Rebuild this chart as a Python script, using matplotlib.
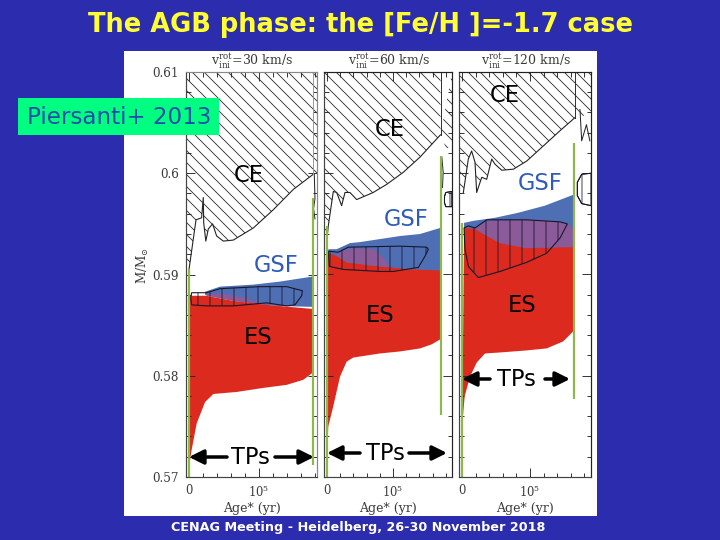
import numpy as np
import matplotlib
matplotlib.use('Agg')
import matplotlib.pyplot as plt
from matplotlib.patches import Rectangle, FancyArrowPatch
from matplotlib.ticker import MultipleLocator

# Data, age in units of 1e5 yr, mass in Msun
velocities = [30, 60, 120]

# panel 1
ce_age_1 = [0, 0.10, 0.18, 0.204, 0.21, 0.24, 0.276, 0.337, 0.395, 0.49, 0.633, 0.92, 1.205, 1.49, 1.776]
ce_mass_1 = [0.5905, 0.5954, 0.5956, 0.5976, 0.5951, 0.5933, 0.5945, 0.5950, 0.5938, 0.5933, 0.5934, 0.5946, 0.5964, 0.5984, 0.5999]
red_low_age_1 = [0, 0.038, 0.11, 0.229, 0.348, 0.681, 1.062, 1.395, 1.633, 1.767]
red_low_mass_1 = [0.5710, 0.5727, 0.5753, 0.5774, 0.5782, 0.5784, 0.5788, 0.5791, 0.5796, 0.5803]
red_top_age_1 = [0, 0.02, 0.25, 0.63, 1.11, 1.767]
red_top_mass_1 = [0.5877, 0.5879, 0.5879, 0.5874, 0.5870, 0.5866]
blue_top_age_1 = [0.229, 0.443, 0.92, 1.30, 1.767]
blue_top_mass_1 = [0.5883, 0.5888, 0.5890, 0.5893, 0.5898]
blue_bot_age_1 = [0.229, 0.63, 1.06, 1.25, 1.767]
blue_bot_mass_1 = [0.5880, 0.5874, 0.5870, 0.5869, 0.5868]
purple_age_1 = [0.25, 0.5, 0.8, 1.06]
purple_mass_1 = [0.5881, 0.5881, 0.5877, 0.5871]
pocket_age_1 = [0.038, 0.024, 0.038, 0.252, 0.633, 1.11, 1.395, 1.514, 1.61, 1.62, 1.395, 1.014, 0.443, 0.252, 0.11, 0.038]
pocket_mass_1 = [0.5882, 0.5877, 0.5870, 0.5869, 0.5869, 0.5872, 0.5869, 0.5870, 0.5879, 0.5884, 0.5888, 0.5888, 0.5886, 0.5882, 0.5882, 0.5882]
green_1 = [(0, 0.5700, 0.5905), (1.767, 0.5712, 0.5976)]
sliver_age_1 = [1.776, 1.776, 1.83, 1.83]
sliver_mass_1 = [0.6100, 0.5999, 0.5995, 0.6100]
zig_age_1 = [1.79, 1.80, 1.78, 1.80]
zig_mass_1 = [0.5999, 0.5975, 0.5965, 0.5955]

# panel 2
ce_age_2 = [0, 0.02, 0.096, 0.147, 0.222, 0.273, 0.348, 0.45, 0.70, 0.904, 1.157, 1.41, 1.72]
ce_mass_2 = [0.5935, 0.5948, 0.5982, 0.5981, 0.5968, 0.5981, 0.5981, 0.5974, 0.5981, 0.5989, 0.6001, 0.6016, 0.6038]
red_low_age_2 = [0, 0.02, 0.096, 0.197, 0.298, 0.399, 0.5, 0.8, 1.106, 1.41, 1.586, 1.717]
red_low_mass_2 = [0.5720, 0.5750, 0.5770, 0.5799, 0.5814, 0.5818, 0.5819, 0.5822, 0.5824, 0.5827, 0.5831, 0.5836]
red_top_age_2 = [0, 0.15, 0.3, 0.65, 0.955, 1.258, 1.717]
red_top_mass_2 = [0.5922, 0.5918, 0.5912, 0.5909, 0.5907, 0.5905, 0.5904]
blue_top_age_2 = [0.02, 0.147, 0.348, 0.5, 0.803, 1.106, 1.41, 1.717]
blue_top_mass_2 = [0.5925, 0.5925, 0.5931, 0.5932, 0.5935, 0.5938, 0.5940, 0.5946]
blue_bot_age_2 = [0.02, 1.717]
blue_bot_mass_2 = [0.5900, 0.5900]
purple_age_2 = [0.15, 0.4, 0.7, 0.85, 0.955]
purple_mass_2 = [0.5922, 0.5926, 0.5925, 0.5917, 0.5907]
pocket_age_2 = [0.02, 0.035, 0.248, 0.803, 1.005, 1.384, 1.485, 1.535, 1.51, 1.106, 0.323, 0.172, 0.02]
pocket_mass_2 = [0.5923, 0.5908, 0.5905, 0.5903, 0.5903, 0.5907, 0.5918, 0.5925, 0.5927, 0.5928, 0.5927, 0.5922, 0.5923]
green_2 = [(0, 0.5700, 0.5948), (1.72, 0.5761, 0.6017)]
sliver_age_2 = [1.72, 1.80, 1.894, 1.894]
sliver_mass_2 = [0.6038, 0.6025, 0.6025, 0.6100]
zig_age_2 = [1.74, 1.76, 1.75]
zig_mass_2 = [0.6016, 0.6001, 0.5986]
box_age_2 = [1.89, 1.80, 1.78, 1.78, 1.80, 1.89]
box_mass_2 = [0.5982, 0.5981, 0.5977, 0.5971, 0.5967, 0.5967]

# panel 3
ce_age_3 = [0.02, 0.093, 0.142, 0.191, 0.216, 0.29, 0.363, 0.437, 0.485, 0.584, 0.755, 0.951, 1.196, 1.441, 1.662]
ce_mass_3 = [0.5981, 0.6014, 0.6022, 0.6011, 0.5981, 0.5996, 0.5994, 0.6014, 0.6009, 0.6003, 0.6004, 0.6012, 0.6027, 0.6042, 0.6055]
red_low_age_3 = [0.005, 0.04, 0.118, 0.216, 0.338, 0.559, 0.95, 1.245, 1.49, 1.637]
red_low_mass_3 = [0.5753, 0.5780, 0.5799, 0.5813, 0.5822, 0.5823, 0.5825, 0.5827, 0.5834, 0.5844]
red_top_age_3 = [0.03, 0.191, 0.314, 0.559, 0.951, 1.441, 1.647]
red_top_mass_3 = [0.5946, 0.5945, 0.5940, 0.5931, 0.5926, 0.5927, 0.5927]
blue_top_age_3 = [0.03, 0.167, 0.485, 0.828, 1.22, 1.647]
blue_top_mass_3 = [0.5951, 0.5953, 0.5956, 0.5961, 0.5968, 0.5979]
blue_bot_age_3 = [0.03, 1.647]
blue_bot_mass_3 = [0.5920, 0.5920]
purple_age_3 = [0.191, 0.363, 0.8, 1.2, 1.55, 1.647]
purple_mass_3 = [0.5945, 0.5953, 0.5954, 0.5954, 0.5950, 0.5945]
pocket_age_3 = [0.03, 0.044, 0.093, 0.24, 0.559, 0.951, 1.245, 1.441, 1.55, 1.441, 0.951, 0.363, 0.191, 0.093, 0.03]
pocket_mass_3 = [0.5946, 0.5925, 0.5908, 0.5897, 0.5903, 0.5912, 0.5921, 0.5936, 0.5950, 0.5952, 0.5954, 0.5954, 0.5946, 0.5948, 0.5946]
green_3 = [(0, 0.5700, 0.5951), (1.65, 0.5777, 0.6030)]
sliver_age_3 = [1.662, 1.75, 1.897, 1.897, 1.662]
sliver_mass_3 = [0.6055, 0.6055, 0.6062, 0.6100, 0.6100]
zig_age_3 = [1.735, 1.76, 1.83, 1.88]
zig_mass_3 = [0.6063, 0.6032, 0.6048, 0.6032]
box_age_3 = [1.897, 1.76, 1.696, 1.696, 1.76, 1.897]
box_mass_3 = [0.6000, 0.5999, 0.5991, 0.5978, 0.5970, 0.5968]

panels = [
    dict(px=(186, 317), xlim=(-0.043, 1.829), ce=(ce_age_1, ce_mass_1), red_low=(red_low_age_1, red_low_mass_1),
         red_top=(red_top_age_1, red_top_mass_1), blue_top=(blue_top_age_1, blue_top_mass_1),
         blue_bot=(blue_bot_age_1, blue_bot_mass_1), purple=(purple_age_1, purple_mass_1),
         pocket=(pocket_age_1, pocket_mass_1), green=green_1, sliver=(sliver_age_1, sliver_mass_1),
         zig=(zig_age_1, zig_mass_1), box=None),
    dict(px=(324, 452), xlim=(-0.045, 1.894), ce=(ce_age_2, ce_mass_2), red_low=(red_low_age_2, red_low_mass_2),
         red_top=(red_top_age_2, red_top_mass_2), blue_top=(blue_top_age_2, blue_top_mass_2),
         blue_bot=(blue_bot_age_2, blue_bot_mass_2), purple=(purple_age_2, purple_mass_2),
         pocket=(pocket_age_2, pocket_mass_2), green=green_2, sliver=(sliver_age_2, sliver_mass_2),
         zig=(zig_age_2, zig_mass_2), box=(box_age_2, box_mass_2)),
    dict(px=(459, 591), xlim=(-0.044, 1.897), ce=(ce_age_3, ce_mass_3), red_low=(red_low_age_3, red_low_mass_3),
         red_top=(red_top_age_3, red_top_mass_3), blue_top=(blue_top_age_3, blue_top_mass_3),
         blue_bot=(blue_bot_age_3, blue_bot_mass_3), purple=(purple_age_3, purple_mass_3),
         pocket=(pocket_age_3, pocket_mass_3), green=green_3, sliver=(sliver_age_3, sliver_mass_3),
         zig=(zig_age_3, zig_mass_3), box=(box_age_3, box_mass_3)),
]

W, H = 720, 540
BG = '#2c2cae'
RED = '#dc2a1e'
BLUE = '#4f6fb4'
PURPLE = '#8b5a98'
GREEN = '#8fb84a'
INK = '#3a3a3a'
SLIDE_FONT = 'DejaVu Sans'

plt.rcParams['hatch.linewidth'] = 0.8
plt.rcParams['mathtext.fontset'] = 'dejavuserif'

# 72 dpi so that one point is one pixel and the hatch tile repeats every 12 px
fig = plt.figure(figsize=(W / 72, H / 72), dpi=72, facecolor=BG)


def fx(x):
    return x / W


def fy(y):
    return 1 - y / H


def closed(top, bottom):
    xs = list(top[0]) + list(bottom[0])[::-1]
    ys = list(top[1]) + list(bottom[1])[::-1]
    return xs, ys


# White page the plot sits on
fig.patches.append(Rectangle((fx(124), fy(516)), 473 / W, 465 / H, transform=fig.transFigure,
                             facecolor='white', edgecolor='none', zorder=0))

for i, p in enumerate(panels):
    left, right = p['px']
    ax = fig.add_axes([fx(left), fy(477), (right - left) / W, 405 / H], zorder=1)
    ax.set_xlim(*p['xlim'])
    ax.set_ylim(0.57, 0.61)

    # CE hatch: everything above the boundary
    ce_x = [p['xlim'][0], p['xlim'][0]] + list(p['ce'][0]) + [p['ce'][0][-1]]
    ce_y = [0.61, p['ce'][1][0]] + list(p['ce'][1]) + [0.61]
    ax.fill(ce_x, ce_y, facecolor='none', edgecolor='#222222', hatch='\\\\', linewidth=0)
    ax.fill(p['sliver'][0], p['sliver'][1], facecolor='none', edgecolor='#222222', hatch='\\\\', linewidth=0)
    ax.plot(p['ce'][0], p['ce'][1], color='#222222', lw=1.1)
    ax.plot(p['zig'][0], p['zig'][1], color='#222222', lw=1.0)
    ax.plot([p['ce'][0][-1]] * 2, [p['ce'][1][-1], 0.61], color='#333333' if i else '#999999', lw=1.0)

    # GSF, ES and their overlap
    xs, ys = closed(p['blue_top'], p['blue_bot'])
    ax.fill(xs, ys, color=BLUE, lw=0)
    xs, ys = closed(p['red_top'], p['red_low'])
    ax.fill(xs, ys, color=RED, lw=0)
    xs, ys = closed(p['purple'], p['red_top'])
    keep = [(a, b) for a, b in zip(xs, ys) if p['purple'][0][0] <= a <= p['purple'][0][-1]]
    ax.fill([k[0] for k in keep], [k[1] for k in keep], color=PURPLE, lw=0)

    # Pocket outline with vertical hatch
    ax.fill(p['pocket'][0], p['pocket'][1], facecolor='none', edgecolor='#16162a', hatch='|', linewidth=1.1)
    if p['box'] is not None:
        ax.fill(p['box'][0], p['box'][1], facecolor='none', edgecolor='#16162a', hatch='|', linewidth=1.0)
        ax.plot(p['box'][0], p['box'][1], color='#16162a', lw=1.0)

    # TP phase limits
    for age, low, high in p['green']:
        ax.plot([age, age], [low, high], color=GREEN, lw=2.2, solid_capstyle='butt')

    ax.xaxis.set_major_locator(MultipleLocator(1))
    ax.xaxis.set_minor_locator(MultipleLocator(0.2))
    ax.yaxis.set_major_locator(MultipleLocator(0.01))
    ax.yaxis.set_minor_locator(MultipleLocator(0.002))
    ax.tick_params(which='major', direction='in', top=True, right=True, length=9, width=0.9, color='#222222', pad=7)
    ax.tick_params(which='minor', direction='in', top=True, right=True, length=4.5, width=0.9, color='#222222')
    ax.set_xticks([0, 1])
    ax.set_xticklabels(['0', '$10^5$'], family='DejaVu Serif', fontsize=11.5, color=INK)
    if i == 0:
        ax.set_yticks([0.57, 0.58, 0.59, 0.60, 0.61])
        ax.set_yticklabels(['0.57', '0.58', '0.59', '0.6', '0.61'], family='DejaVu Serif', fontsize=12, color=INK)
        ax.set_ylabel(r'M/M$_{\odot}$', family='DejaVu Serif', fontsize=12, color=INK, labelpad=2, y=0.523)
    else:
        ax.tick_params(axis='y', labelleft=False)
    for s in ax.spines.values():
        s.set_linewidth(1.2)
        s.set_color('#888888' if i == 0 else '#222222')
    ax.spines['left'].set_color('#444444')
    ax.spines['bottom'].set_color('#444444')
    ax.set_xlabel('Age* (yr)', family='DejaVu Serif', fontsize=12.5, color=INK, labelpad=2)
    fig.text(fx((left + right) / 2 + 1), fy(61), r'$\mathrm{v}_{\mathrm{ini}}^{\mathrm{rot}}$=%d km/s' % velocities[i],
             family='DejaVu Serif', fontsize=12.5, color=INK, ha='center', va='center', zorder=3)

# Slide title, footer and reference box
fig.text(fx(360), fy(25), 'The AGB phase: the [Fe/H ]=-1.7 case', family=SLIDE_FONT, fontsize=25.7,
         fontweight='bold', color='#ffff33', ha='center', va='center')
fig.text(fx(358), fy(528), 'CENAG Meeting - Heidelberg, 26-30 November 2018', family=SLIDE_FONT, fontsize=12.7,
         fontweight='bold', color='white', ha='center', va='center')
fig.patches.append(Rectangle((fx(18), fy(135)), 201 / W, 37 / H, transform=fig.transFigure,
                             facecolor='#00ff80', edgecolor='none', zorder=4))
fig.text(fx(119), fy(117), 'Piersanti+ 2013', family=SLIDE_FONT, fontsize=23, color='#1a4cb0',
         ha='center', va='center', zorder=5)

labels = [
    ('CE', 249, 175, 'black'), ('CE', 390, 130, 'black'), ('CE', 505, 95, 'black'),
    ('GSF', 276, 266, '#2f5cb8'), ('GSF', 406, 220, '#2f5cb8'), ('GSF', 540, 184, '#2f5cb8'),
    ('ES', 258, 337, 'black'), ('ES', 380, 315, 'black'), ('ES', 522, 306, 'black'),
    ('TPs', 250, 457, 'black'), ('TPs', 385, 453, 'black'), ('TPs', 516, 379, 'black'),
]
for txt, x, y, col in labels:
    fig.text(fx(x), fy(y), txt, family=SLIDE_FONT, fontsize=22.5, color=col, ha='center', va='center', zorder=5)

arrows = [
    (227, 189, 457), (275, 314, 457), (360, 327, 453),
    (409, 447, 453), (490, 462, 379), (545, 570, 379),
]
for x0, x1, y in arrows:
    fig.add_artist(FancyArrowPatch((fx(x0), fy(y)), (fx(x1), fy(y)), transform=fig.transFigure,
                                   arrowstyle='-|>,head_width=0.4,head_length=0.8', mutation_scale=15,
                                   color='black', lw=3.5, shrinkA=0, shrinkB=0, zorder=6))

fig.savefig('out.png', dpi=72, facecolor=BG)
